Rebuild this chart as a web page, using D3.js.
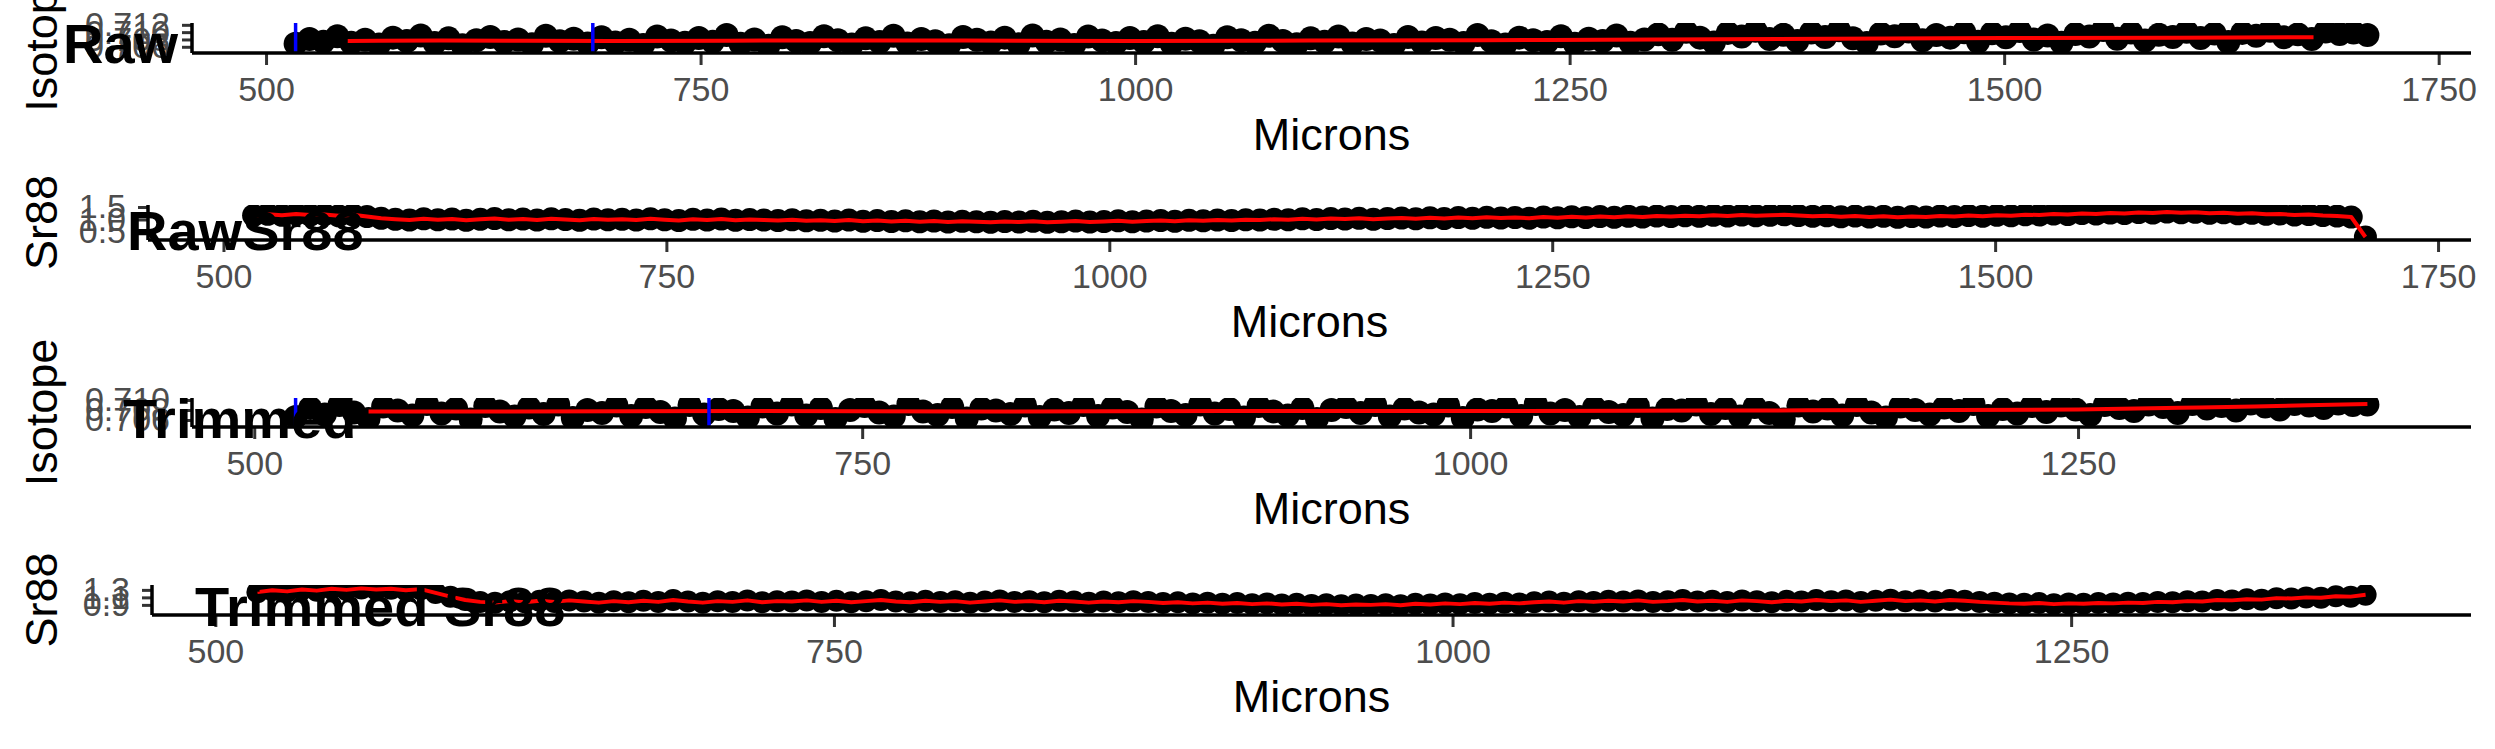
<!DOCTYPE html>
<html><head><meta charset="utf-8">
<script src="https://cdn.jsdelivr.net/npm/d3@7"></script>
<style>
body{margin:0;background:#fff;}
svg{display:block;}
text{font-family:"Liberation Sans",Arial,Helvetica,sans-serif;}
</style>
</head><body>
<svg id="chart" width="2495" height="749"></svg>
<script>
// ---------------- DATA ----------------
// sampling grids (microns)
const rawStart = 517, rawStep = 8;      // 517 .. 1709
const trimStart = 517, trimStep = 6;    // 517 .. 1369

const rawIsotope = [
0.7068,0.7081,0.7074,0.7089,0.7071,0.7079,0.7066,0.7085,0.7076,0.7091,
0.7070,0.7083,0.7064,0.7078,0.7087,0.7073,0.7080,0.7067,0.7090,0.7075,
0.7082,0.7069,0.7086,0.7072,0.7079,0.7065,0.7088,0.7077,0.7071,0.7084,
0.7074,0.7092,0.7068,0.7080,0.7063,0.7086,0.7076,0.7070,0.7089,0.7078,
0.7066,0.7083,0.7073,0.7090,0.7069,0.7081,0.7075,0.7064,0.7087,0.7079,
0.7072,0.7085,0.7067,0.7091,0.7074,0.7080,0.7065,0.7088,0.7077,0.7070,
0.7084,0.7073,0.7089,0.7068,0.7082,0.7075,0.7063,0.7086,0.7078,0.7071,
0.7090,0.7076,0.7067,0.7083,0.7074,0.7088,0.7069,0.7081,0.7077,0.7065,
0.7087,0.7072,0.7084,0.7079,0.7070,0.7092,0.7075,0.7066,0.7085,0.7078,
0.7073,0.7089,0.7068,0.7082,0.7076,0.7091,0.7071,0.7080,
0.7094,0.7079,0.7101,0.7085,0.7072,0.7098,0.7088,0.7104,0.7081,0.7093,
0.7076,0.7099,0.7087,0.7105,0.7083,0.7070,0.7096,0.7089,0.7102,0.7078,
0.7092,0.7085,0.7100,0.7074,0.7097,0.7086,0.7103,0.7080,0.7091,0.7071,
0.7095,0.7088,0.7106,0.7082,0.7099,0.7077,0.7093,0.7087,0.7101,0.7084,
0.7096,0.7073,0.7098,0.7090,0.7104,0.7086,0.7094,0.7081,0.7102,0.7095,
0.7099,0.7092
];

const rawSr88 = [
1.16,1.21,1.17,1.22,1.18,1.20,1.15,1.19,
1.12,1.05,1.01,
0.98,1.03,0.99,1.02,0.97,1.01,1.04,0.99,1.02,0.98,1.03,1.00,0.97,1.02,0.99,1.01,0.98,1.03,0.99,0.96,1.01,0.98,1.02,0.97,1.00,0.98,
0.96,0.99,0.95,0.97,0.94,0.98,0.93,0.96,0.92,0.95,0.91,0.94,0.90,0.93,0.91,0.89,0.92,0.90,0.93,0.89,0.91,0.94,0.90,0.92,0.95,0.91,0.94,0.96,0.93,0.97,0.95,0.98,0.96,0.99,
0.98,1.01,0.99,1.03,1.00,1.04,1.02,1.05,1.01,1.04,1.06,1.03,1.07,1.04,1.08,1.05,1.09,1.06,1.08,1.05,1.10,1.07,1.11,1.08,1.12,1.09,1.13,1.10,1.14,1.12,1.15,1.13,1.17,1.14,1.18,1.15,1.17,1.19,
1.16,1.13,1.15,1.11,1.14,1.10,1.13,1.09,1.12,1.10,1.14,1.12,1.16,1.13,1.17,1.15,1.19,
1.18,1.22,1.20,1.24,1.22,1.26,1.24,1.28,1.26,1.30,1.27,1.29,1.25,1.27,1.23,1.25,1.21,1.22,1.18,1.20,
1.16,1.14,1.10,0.30
];

const trimmedIsotope = [
0.7066,0.7084,0.7071,0.7090,0.7075,0.7062,0.7087,0.7079,0.7069,0.7092,
0.7073,0.7083,0.7061,0.7088,0.7077,0.7067,0.7085,0.7072,0.7091,0.7064,
0.7080,0.7074,0.7089,0.7068,0.7086,0.7076,0.7063,0.7090,0.7071,0.7082,
0.7078,0.7065,0.7087,0.7073,0.7091,0.7069,0.7084,0.7062,0.7080,0.7088,
0.7075,0.7067,0.7092,0.7077,0.7070,0.7086,0.7063,0.7083,0.7079,0.7072,
0.7089,0.7066,0.7081,0.7074,0.7090,0.7068,0.7085,0.7076,0.7061,0.7087,
0.7078,0.7070,0.7091,0.7073,0.7082,0.7065,0.7088,0.7077,0.7069,0.7084,
0.7062,0.7080,0.7086,0.7074,0.7090,0.7067,0.7083,0.7075,0.7071,0.7089,
0.7064,0.7081,0.7078,0.7087,0.7068,0.7092,0.7073,0.7080,0.7066,0.7085,
0.7076,0.7070,0.7088,0.7063,0.7082,0.7079,0.7091,0.7072,0.7084,0.7067,
0.7086,0.7074,0.7061,0.7089,0.7077,0.7083,0.7069,0.7090,0.7075,0.7065,
0.7087,0.7080,0.7071,0.7085,0.7078,0.7092,0.7068,0.7082,0.7073,0.7088,
0.7076,0.7089,0.7081,0.7070,0.7090,0.7084,0.7078,0.7091,0.7086,0.7074,
0.7092,0.7083,0.7088,0.7079,0.7093,0.7087,0.7081,0.7092,0.7089,0.7084,
0.7093,0.7090,0.7091
];

const trimmedSr88 = [
1.24,1.29,1.26,1.31,1.28,1.33,1.30,1.34,1.31,1.33,1.29,1.32,
1.22,1.12,1.03,0.98,
0.96,1.00,0.97,1.01,0.98,1.02,0.99,0.96,1.00,
0.97,1.01,0.98,1.03,0.99,0.96,1.00,0.98,1.02,
0.97,1.00,0.99,1.02,0.98,1.01,0.97,1.00,1.03,
0.99,0.97,1.01,0.98,1.00,0.96,0.99,1.02,0.98,
1.00,0.97,1.01,0.99,0.96,0.99,0.97,1.00,0.98,
0.95,0.97,0.94,0.96,0.93,0.95,0.92,0.94,0.91,0.93,0.90,0.92,0.89,0.91,0.90,0.92,0.89,0.93,0.91,0.94,0.92,0.95,0.93,0.96,0.94,
0.97,0.99,0.96,1.00,0.98,1.01,0.99,1.02,0.98,1.00,1.03,0.99,1.01,0.98,1.02,1.00,0.97,1.01,0.99,1.03,
1.00,1.02,0.98,1.01,1.04,1.00,1.02,0.99,1.03,1.01,0.98,0.96,0.94,0.93,0.95,0.92,0.94,0.93,0.95,0.94,
0.96,0.95,0.98,0.97,1.00,0.99,1.03,1.02,1.05,1.04,1.08,1.07,1.10,1.09,1.13,1.12,1.17
];

// smoothed isotope traces (red)
const rawSmoothMicrons = [547,600,700,800,900,1000,1100,1200,1300,1400,1500,1600,1678];
const rawSmoothValues  = [0.7076,0.7077,0.7076,0.7077,0.7077,0.7076,0.7077,0.7078,0.7080,0.7082,0.7084,0.7085,0.7086];
const trimSmoothMicrons = [547,600,700,800,900,1000,1100,1200,1250,1300,1340,1369];
const trimSmoothValues  = [0.7077,0.7077,0.7078,0.7077,0.7078,0.7078,0.7079,0.7080,0.7081,0.7085,0.7089,0.7092];

// blue marker positions (microns)
const rawMarkers = [517, 688];
const trimmedMarkers = [517, 687];

// ticks
const xTicksRaw = [500, 750, 1000, 1250, 1500, 1750];
const xTicksTrim = [500, 750, 1000, 1250];
const yTicksRawIso = [0.706, 0.708, 0.710, 0.712];
const yTicksRawSr = [0.5, 1.0, 1.5];
const yTicksTrimIso = [0.706, 0.708, 0.710];
const yTicksTrimSr = [0.9, 1.1, 1.3];

const panelLabels = ["Raw", "RawSr88", "Trimmed", "Trimmed Sr88"];
const yTitles = ["Isotope", "Sr88", "Isotope", "Sr88"];
const xTitle = "Microns";

// ---------------- LAYOUT ----------------
const RIGHT = 2471;
const panels = [
  {values: rawIsotope, start: rawStart, step: rawStep, smoothX: rawSmoothMicrons, smoothY: rawSmoothValues,
   markers: rawMarkers, xTicks: xTicksRaw, yTicks: yTicksRawIso, yDomain: [0.7043, 0.7125], fmt: ".3f",
   left: 192, top: 23, bottom: 53, labelX: 63, labelY: 63, r: 12},
  {values: rawSr88, start: rawStart, step: rawStep, smoothX: null,
   markers: [], xTicks: xTicksRaw, yTicks: yTicksRawSr, yDomain: [0.18, 1.58], fmt: ".1f",
   left: 148, top: 205, bottom: 240, labelX: 127, labelY: 250, r: 11.5},
  {values: trimmedIsotope, start: trimStart, step: trimStep, smoothX: trimSmoothMicrons, smoothY: trimSmoothValues,
   markers: trimmedMarkers, xTicks: xTicksTrim, yTicks: yTicksTrimIso, yDomain: [0.7046, 0.7104], fmt: ".3f",
   left: 192, top: 398, bottom: 427, labelX: 123, labelY: 438, r: 12},
  {values: trimmedSr88, start: trimStart, step: trimStep, smoothX: null,
   markers: [], xTicks: xTicksTrim, yTicks: yTicksTrimSr, yDomain: [0.63, 1.43], fmt: ".1f",
   left: 152, top: 585, bottom: 615, labelX: 195, labelY: 626, r: 11}
];

const svg = d3.select("#chart");
const FONT = '"Liberation Sans",Arial,Helvetica,sans-serif';
const defs = svg.append("defs");

panels.forEach((p, k) => {
  const data = p.values.map((v, i) => ({x: p.start + i * p.step, y: v}));
  const ext = d3.extent(data, d => d.x);
  const pad = (ext[1] - ext[0]) * 0.05;
  const x = d3.scaleLinear().domain([ext[0] - pad, ext[1] + pad]).range([p.left, RIGHT]);
  const y = d3.scaleLinear().domain(p.yDomain).range([p.bottom, p.top]);

  const g = svg.append("g");
  const cid = "clip" + k;
  defs.append("clipPath").attr("id", cid)
    .append("rect").attr("x", p.left).attr("y", p.top)
    .attr("width", RIGHT - p.left).attr("height", p.bottom - p.top);

  const plot = g.append("g").attr("clip-path", `url(#${cid})`);
  plot.selectAll("circle").data(data).join("circle")
    .attr("cx", d => x(d.x)).attr("cy", d => y(d.y)).attr("r", p.r).attr("fill", "#000");

  const line = d3.line().x(d => x(d.x)).y(d => y(d.y));
  if (p.smoothX) {
    const sm = p.smoothX.map((m, i) => ({x: m, y: p.smoothY[i]}));
    plot.append("path").datum(sm).attr("d", line.curve(d3.curveMonotoneX))
      .attr("fill", "none").attr("stroke", "#FF0000").attr("stroke-width", 4);
  } else {
    plot.append("path").datum(data).attr("d", line.curve(d3.curveLinear))
      .attr("fill", "none").attr("stroke", "#FF0000").attr("stroke-width", 4)
      .attr("stroke-linejoin", "round");
  }
  plot.selectAll("line.mk").data(p.markers).join("line").attr("class", "mk")
    .attr("x1", d => x(d)).attr("x2", d => x(d))
    .attr("y1", p.top).attr("y2", p.bottom)
    .attr("stroke", "#0000FF").attr("stroke-width", 3.5);

  // x axis
  const xa = g.append("g").attr("transform", `translate(0,${p.bottom})`)
    .call(d3.axisBottom(x).tickValues(p.xTicks).tickFormat(d3.format("d")).tickSize(12).tickPadding(12));
  xa.select(".domain").remove();
  xa.selectAll(".tick line").attr("stroke", "#333333").attr("stroke-width", 3);
  xa.selectAll(".tick text").attr("fill", "#4D4D4D").attr("font-size", 34).attr("font-family", FONT);
  xa.attr("font-family", FONT);

  // y axis
  const ya = g.append("g").attr("transform", `translate(${p.left},0)`)
    .call(d3.axisLeft(y).tickValues(p.yTicks).tickFormat(d3.format(p.fmt)).tickSize(10).tickPadding(12));
  ya.select(".domain").remove();
  ya.selectAll(".tick line").attr("stroke", "#333333").attr("stroke-width", 3);
  ya.selectAll(".tick text").attr("fill", "#4D4D4D").attr("font-size", 34).attr("font-family", FONT);
  ya.attr("font-family", FONT);

  // axis lines
  g.append("line").attr("x1", p.left).attr("x2", RIGHT).attr("y1", p.bottom).attr("y2", p.bottom)
    .attr("stroke", "#000").attr("stroke-width", 3.5);
  g.append("line").attr("x1", p.left).attr("x2", p.left).attr("y1", p.top).attr("y2", p.bottom)
    .attr("stroke", "#000").attr("stroke-width", 3.5);

  // titles
  g.append("text").attr("x", (p.left + RIGHT) / 2).attr("y", p.bottom + 97)
    .attr("text-anchor", "middle").attr("font-size", 45).attr("fill", "#000").text(xTitle);
  g.append("text").attr("transform", `translate(57,${(p.top + p.bottom) / 2}) rotate(-90)`)
    .attr("text-anchor", "middle").attr("font-size", 45).attr("fill", "#000").text(yTitles[k]);
});

// panel labels on top
panels.forEach((p, k) => {
  svg.append("text").attr("x", p.labelX).attr("y", p.labelY)
    .attr("font-size", 56).attr("font-weight", "bold").attr("fill", "#000").text(panelLabels[k]);
});
</script>
</body></html>
